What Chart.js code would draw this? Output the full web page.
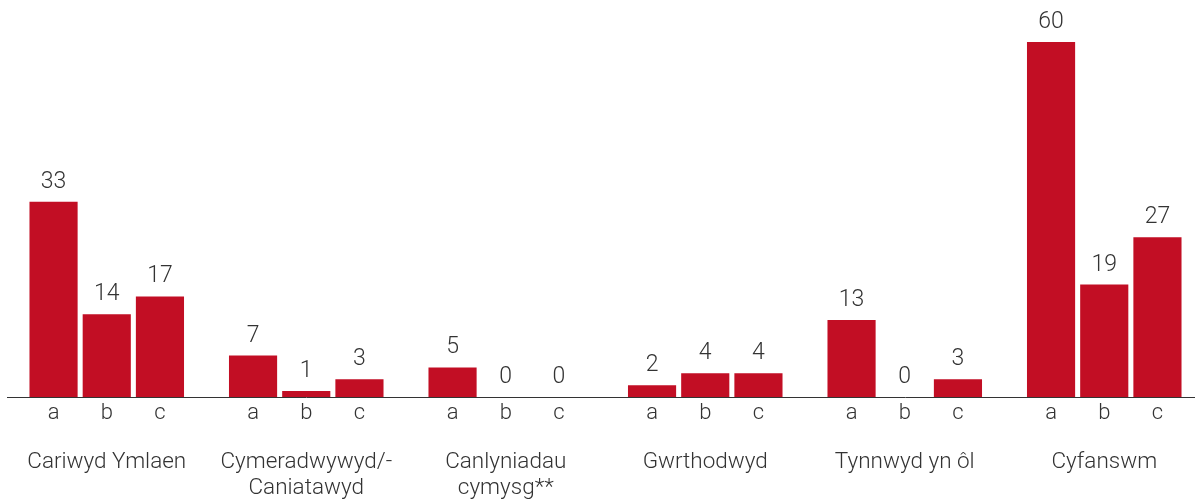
<!DOCTYPE html>
<html>
<head>
<meta charset="utf-8">
<script src="https://cdn.jsdelivr.net/npm/chart.js@4/dist/chart.umd.min.js"></script>
<style>
  html, body { margin: 0; padding: 0; background: #fff; overflow: hidden; }
  #wrap { width: 1205px; height: 502px; }
</style>
</head>
<body>
<div id="wrap"><canvas id="c" width="1205" height="502"></canvas></div>
<script>
const categories = [
  'Cariwyd Ymlaen',
  ['Cymeradwywyd/-', 'Caniatawyd'],
  ['Canlyniadau', 'cymysg**'],
  'Gwrthodwyd',
  'Tynnwyd yn ôl',
  'Cyfanswm'
];
const seriesNames = ['a', 'b', 'c'];
const seriesA = [33, 7, 5, 2, 13, 60];
const seriesB = [14, 1, 0, 4, 0, 19];
const seriesC = [17, 3, 0, 4, 3, 27];

const BAR = '#C20E24';
const TEXT = '#333333';
const FONT = "Roboto, 'Liberation Sans', Arial, sans-serif";
const WEIGHT = '300';

const labelPlugin = {
  id: 'barLabels',
  afterDatasetsDraw(chart) {
    const ctx = chart.ctx;
    const zeroY = chart.scales.y.getPixelForValue(0);
    ctx.save();
    ctx.fillStyle = TEXT;
    ctx.textAlign = 'center';
    ctx.textBaseline = 'alphabetic';
    chart.data.datasets.forEach((ds, i) => {
      const meta = chart.getDatasetMeta(i);
      meta.data.forEach((bar, j) => {
        ctx.font = WEIGHT + ' 23px ' + FONT;
        ctx.fillText(String(ds.data[j]), bar.x, bar.y - 14);
        ctx.font = WEIGHT + ' 22px ' + FONT;
        ctx.fillText(ds.label, bar.x, zeroY + 22);
      });
    });
    ctx.restore();
  }
};

new Chart(document.getElementById('c'), {
  type: 'bar',
  data: {
    labels: categories,
    datasets: [
      { label: seriesNames[0], data: seriesA, backgroundColor: BAR },
      { label: seriesNames[1], data: seriesB, backgroundColor: BAR },
      { label: seriesNames[2], data: seriesC, backgroundColor: BAR }
    ]
  },
  options: {
    responsive: false,
    animation: false,
    devicePixelRatio: 1,
    layout: { padding: { left: 7, right: 1, top: 42, bottom: 0 } },
    plugins: { legend: { display: false }, tooltip: { enabled: false } },
    datasets: { bar: { categoryPercentage: 0.8, barPercentage: 0.905 } },
    scales: {
      x: {
        grid: { display: false, drawTicks: false },
        border: { display: true, color: '#333', width: 1 },
        ticks: {
          color: TEXT,
          padding: 52,
          maxRotation: 0,
          autoSkip: false,
          font: { family: FONT, size: 22.5, weight: WEIGHT, lineHeight: 1.16 }
        },
        afterFit(scale) {
          scale.height = 105;
          scale.paddingLeft = 0;
          scale.paddingRight = 0;
        }
      },
      y: {
        display: false,
        min: 0,
        max: 60
      }
    }
  },
  plugins: [labelPlugin]
});
</script>
</body>
</html>
